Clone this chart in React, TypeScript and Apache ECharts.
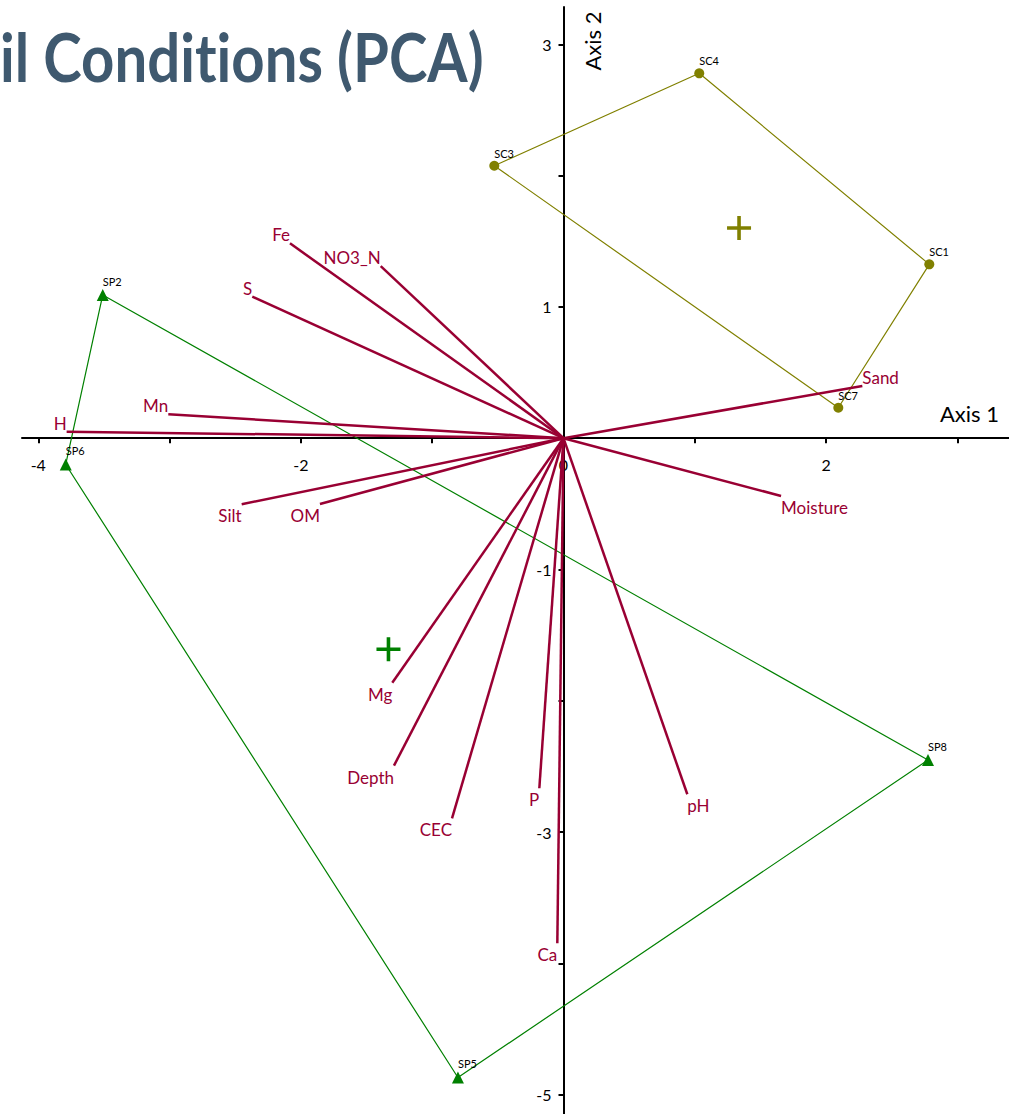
import React, { useEffect, useRef } from "react";
import * as echarts from "echarts";

// ---- data ----
const scNames = ["SC1", "SC3", "SC4", "SC7"];
const scX = [2.786, -0.527, 1.034, 2.093];
const scY = [1.324, 2.075, 2.779, 0.232];
const scHullOrder = ["SC3", "SC4", "SC1", "SC7", "SC3"];
const scCentroid = [1.337, 1.601];

const spNames = ["SP2", "SP5", "SP6", "SP8"];
const spX = [-3.509, -0.804, -3.791, 2.776];
const spY = [1.091, -4.869, -0.2, -2.451];
const spHullOrder = ["SP2", "SP8", "SP5", "SP6", "SP2"];
const spCentroid = [-1.333, -1.607];

const varNames = ["Fe", "NO3_N", "S", "Mn", "H", "Silt", "OM", "Sand", "Moisture", "Mg", "Depth", "CEC", "P", "pH", "Ca"];
const varX = [-2.083, -1.392, -2.37, -3.01, -3.784, -2.451, -1.855, 2.276, 1.657, -1.304, -1.291, -0.849, -0.184, 0.943, -0.047];
const varY = [1.484, 1.311, 1.078, 0.182, 0.05, -0.503, -0.501, 0.398, -0.44, -1.862, -2.494, -2.895, -2.666, -2.712, -3.847];

const xTickValues = [-4, -3, -2, -1, 0, 1, 2, 3];
const xLabelValues = [-4, -2, 0, 2];
const yTickValues = [-5, -4, -3, -2, -1, 0, 1, 2, 3];
const yLabelValues = [-5, -3, -1, 1, 3];

const titleText = "il Conditions (PCA)";
const xAxisName = "Axis 1";
const yAxisName = "Axis 2";

// ---- styling ----
const FONT = "Lato, 'Open Sans', sans-serif";
const OLIVE = "#808000";
const GREEN = "#008000";
const CRIMSON = "#990033";
const PLUS_PATH = "path://M4.25,0H5.75V4.25H10V5.75H5.75V10H4.25V5.75H0V4.25H4.25Z";

function hull(names: string[], xs: number[], ys: number[], order: string[]) {
  return order.map((n) => {
    const i = names.indexOf(n);
    return [xs[i], ys[i]];
  });
}

export default function App() {
  const ref = useRef<HTMLDivElement>(null);
  useEffect(() => {
    document.body.style.margin = "0";
    const chart = echarts.init(ref.current!, null, { renderer: "svg" });
    const pointLabel = {
      show: true,
      position: "top",
      align: "left",
      distance: 2,
      formatter: "{b}",
      fontSize: 11,
      fontFamily: FONT,
      color: "#000",
      textBorderWidth: 0,
    };
    chart.setOption({
      animation: false,
      backgroundColor: "#fff",
      grid: { left: 22, right: 0, top: 7, bottom: 0, containLabel: false, outerBoundsMode: "none" },
      xAxis: {
        type: "value",
        min: -4.124,
        max: 3.393,
        axisLine: { onZero: true, lineStyle: { color: "#000", width: 2 } },
        axisTick: { show: true, customValues: xTickValues, length: 5, lineStyle: { color: "#000", width: 2 } },
        axisLabel: { show: false },
        splitLine: { show: false },
      },
      yAxis: {
        type: "value",
        min: -5.147,
        max: 3.284,
        axisLine: { onZero: true, lineStyle: { color: "#000", width: 2 } },
        axisTick: { show: true, customValues: yTickValues, length: 5, lineStyle: { color: "#000", width: 2 } },
        axisLabel: { show: false },
        splitLine: { show: false },
      },
      graphic: [
        {
          type: "text",
          left: 0,
          top: 24,
          scaleX: 0.88,
          style: { text: titleText, fontSize: 66, fontWeight: "bold", fontFamily: FONT, fill: "#3F596F" },
          z: 10,
        },
        {
          type: "text",
          x: 999,
          y: 413,
          style: { text: xAxisName, fontSize: 22, fontFamily: FONT, fill: "#000", align: "right", verticalAlign: "middle" },
        },
        {
          type: "text",
          x: 592,
          y: 41,
          rotation: Math.PI / 2,
          style: { text: yAxisName, fontSize: 22, fontFamily: FONT, fill: "#000", align: "center", verticalAlign: "middle" },
        },
      ],
      series: [
        {
          type: "line",
          data: hull(scNames, scX, scY, scHullOrder),
          showSymbol: false,
          lineStyle: { color: OLIVE, width: 1.2 },
          z: 1,
          silent: true,
        },
        {
          type: "line",
          data: hull(spNames, spX, spY, spHullOrder),
          showSymbol: false,
          lineStyle: { color: GREEN, width: 1.2 },
          z: 1,
          silent: true,
        },
        // x tick labels, placed through the axis scale
        {
          type: "custom",
          z: 1,
          data: xLabelValues.map((v) => [v, 0]),
          encode: { x: 0, y: 1 },
          renderItem: (params: any, api: any) => {
            const p = api.coord([api.value(0), 0]);
            return {
              type: "text",
              x: p[0],
              y: p[1] + 18,
              style: { text: String(xLabelValues[params.dataIndex]), fill: "#000", fontSize: 16, fontFamily: FONT, align: "center", verticalAlign: "top" },
            };
          },
        },
        // y tick labels
        {
          type: "custom",
          z: 1,
          data: yLabelValues.map((v) => [0, v]),
          encode: { x: 0, y: 1 },
          renderItem: (params: any, api: any) => {
            const p = api.coord([0, api.value(1)]);
            return {
              type: "text",
              x: p[0] - 12,
              y: p[1],
              style: { text: String(yLabelValues[params.dataIndex]), fill: "#000", fontSize: 16, fontFamily: FONT, align: "right", verticalAlign: "middle" },
            };
          },
        },
        {
          type: "custom",
          z: 2,
          data: varNames.map((_, i) => [varX[i], varY[i]]),
          encode: { x: 0, y: 1 },
          renderItem: (params: any, api: any) => {
            const vx = api.value(0);
            const vy = api.value(1);
            const o = api.coord([0, 0]);
            const p = api.coord([vx, vy]);
            return {
              type: "group",
              children: [
                {
                  type: "line",
                  shape: { x1: o[0], y1: o[1], x2: p[0], y2: p[1] },
                  style: { stroke: CRIMSON, lineWidth: 2.5 },
                },
                {
                  type: "text",
                  x: p[0],
                  y: p[1] + (vy < 0 ? 3 : 0),
                  style: {
                    text: varNames[params.dataIndex],
                    fill: CRIMSON,
                    fontSize: 17,
                    fontFamily: FONT,
                    align: vx < 0 ? "right" : "left",
                    verticalAlign: vy < 0 ? "top" : "bottom",
                  },
                },
              ],
            };
          },
        },
        {
          type: "scatter",
          z: 3,
          symbol: "circle",
          symbolSize: 10,
          itemStyle: { color: OLIVE, opacity: 1 },
          label: pointLabel,
          data: scNames.map((n, i) => ({ name: n, value: [scX[i], scY[i]] })),
        },
        {
          type: "scatter",
          z: 3,
          symbol: "triangle",
          symbolSize: 12,
          itemStyle: { color: GREEN, opacity: 1 },
          label: pointLabel,
          data: spNames.map((n, i) => ({ name: n, value: [spX[i], spY[i]] })),
        },
        {
          type: "scatter",
          z: 3,
          symbol: PLUS_PATH,
          symbolSize: 24,
          itemStyle: { color: OLIVE, opacity: 1 },
          data: [scCentroid],
        },
        {
          type: "scatter",
          z: 3,
          symbol: PLUS_PATH,
          symbolSize: 24,
          itemStyle: { color: GREEN, opacity: 1 },
          data: [spCentroid],
        },
      ],
    });
    return () => chart.dispose();
  }, []);
  return (
    <>
      <style>{"text{font-variant-ligatures:none;font-feature-settings:'liga' 0,'clig' 0;}"}</style>
      <div ref={ref} style={{ position: "absolute", left: 0, top: 0, width: 1009, height: 1114 }} />
    </>
  );
}
